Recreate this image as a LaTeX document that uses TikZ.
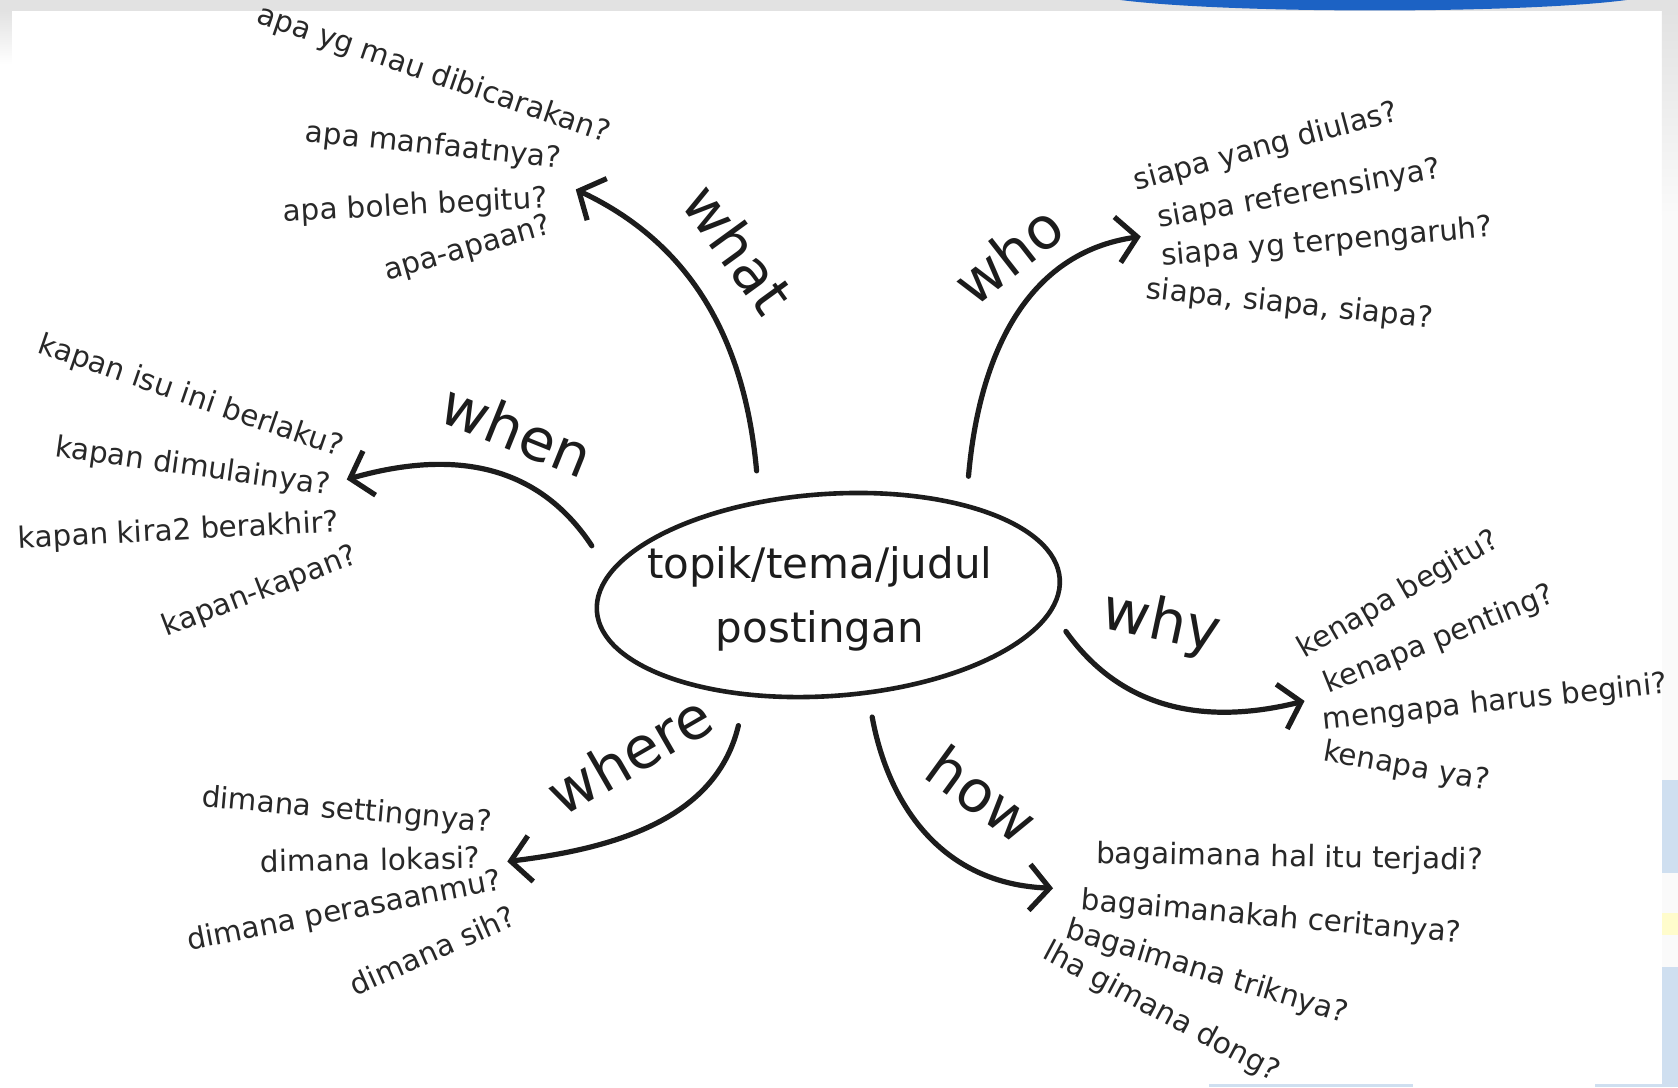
\documentclass[tikz,border=0pt]{standalone}
\usepackage{fontspec}
\setmainfont{DejaVu Sans}
\usetikzlibrary{shapes.geometric, arrows.meta, positioning}
\definecolor{inkdark}{RGB}{28,28,28}
\definecolor{textgray}{RGB}{40,40,40}
\definecolor{framegray}{RGB}{226,226,226}
\definecolor{slideblue}{RGB}{28,98,196}
\definecolor{paleblue}{RGB}{207,223,240}
\definecolor{paleyellow}{RGB}{255,252,204}

\tikzset{
    question/.style={text=textgray, font=\fontsize{14.7}{18}\selectfont, inner sep=1pt},
    keyword/.style={text=inkdark, font=\fontsize{29}{32}\selectfont, inner sep=1pt},
    branch/.style={draw=inkdark, line width=2.6pt, line cap=round, -{Straight Barb[length=10pt,width=23pt]}},
    topicring/.style={ellipse, draw=inkdark, line width=2.3pt, minimum width=232pt, minimum height=101pt, inner sep=0pt}
}

\begin{document}
\begin{tikzpicture}[x=0.5351pt, y=-0.5351pt]
    \useasboundingbox (0,0) rectangle (1568,1016);

    % slide frame
    \fill[white] (0,0) rectangle (1568,1016);
    \fill[framegray] (0,0) rectangle (1568,10);
    \shade[top color=framegray, bottom color=white] (0,10) rectangle (11,60);
    \shade[top color=framegray, bottom color=gray!4] (1553,10) rectangle (1568,200);
    \fill[gray!4] (1553,200) rectangle (1568,1016);
    \fill[slideblue] (1047,0) .. controls (1150,13) and (1420,13) .. (1520,0) -- cycle;
    \fill[paleblue] (1553,729) rectangle (1568,816);
    \fill[paleyellow] (1553,853) rectangle (1568,874);
    \fill[paleblue] (1553,904) rectangle (1568,1016);
    \fill[paleblue] (1130,1013) rectangle (1320,1016);
    \fill[paleblue] (1490,1013) rectangle (1553,1016);

    % centre
    \node[topicring, rotate=4] (topic) at (774,556) {};
    \node[
        text=inkdark,
        font=\fontsize{21}{32}\selectfont,
        align=center
    ] (topiclabel) at (766,560) {topik/tema/judul\\postingan};

    % branches
    \coordinate (what-from) at (707,440);
    \coordinate (what-to) at (538,177);
    \coordinate (who-from) at (905,445);
    \coordinate (who-to) at (1066,221);
    \coordinate (when-from) at (553,510);
    \coordinate (when-to) at (324,448);
    \coordinate (why-from) at (996,590);
    \coordinate (why-to) at (1219,655);
    \coordinate (how-from) at (815,670);
    \coordinate (how-to) at (984,830);
    \coordinate (where-from) at (690,678);
    \coordinate (where-to) at (474,805);

    \draw[branch] (what-from) .. controls (697,330) and (655,232) .. (what-to);
    \draw[branch] (who-from) .. controls (915,330) and (960,236) .. (who-to);
    \draw[branch] (when-from) .. controls (510,445) and (440,415) .. (when-to);
    \draw[branch] (why-from) .. controls (1040,652) and (1110,682) .. (why-to);
    \draw[branch] (how-from) .. controls (830,752) and (880,826) .. (how-to);
    \draw[branch] (where-from) .. controls (670,762) and (582,792) .. (where-to);

    % keywords
    \node[keyword, rotate=-54] (what) at (690,232) {what};
    \node[keyword, rotate=38] (who) at (942,238) {who};
    \node[keyword, rotate=-22] (when) at (483,402) {when};
    \node[keyword, rotate=-12] (why) at (1085,583) {why};
    \node[keyword, rotate=-36] (how) at (918,742) {how};
    \node[keyword, rotate=30] (where) at (588,705) {where};

    % what
    \node[question, rotate=-19] (what-q1) at (405,70) {apa yg mau dibicarakan?};
    \node[question, rotate=-6] (what-q2) at (405,137) {apa manfaatnya?};
    \node[question, rotate=3] (what-q3) at (388,193) {apa boleh begitu?};
    \node[question, rotate=16] (what-q4) at (437,233) {apa-apaan?};

    % who
    \node[question, rotate=15] (who-q1) at (1183,138) {siapa yang diulas?};
    \node[question, rotate=10] (who-q2) at (1214,182) {siapa referensinya?};
    \node[question, rotate=5] (who-q3) at (1240,227) {siapa yg terpengaruh?};
    \node[question, rotate=-6] (who-q4) at (1205,285) {siapa, siapa, siapa?};

    % when
    \node[question, rotate=-19] (when-q1) at (178,371) {kapan isu ini berlaku?};
    \node[question, rotate=-8] (when-q2) at (180,437) {kapan dimulainya?};
    \node[question, rotate=3] (when-q3) at (167,497) {kapan kira2 berakhir?};
    \node[question, rotate=21] (when-q4) at (243,553) {kapan-kapan?};

    % why
    \node[question, rotate=30] (why-q1) at (1307,556) {kenapa begitu?};
    \node[question, rotate=22] (why-q2) at (1345,598) {kenapa penting?};
    \node[question, rotate=6] (why-q3) at (1397,657) {mengapa harus begini?};
    \node[question, rotate=-10] (why-q4) at (1314,717) {kenapa ya?};

    % where
    \node[question, rotate=-5] (where-q1) at (324,758) {dimana settingnya?};
    \node[question, rotate=1] (where-q2) at (346,803) {dimana lokasi?};
    \node[question, rotate=11] (where-q3) at (322,852) {dimana perasaanmu?};
    \node[question, rotate=24] (where-q4) at (404,888) {dimana sih?};

    % how
    \node[question, rotate=-1] (how-q1) at (1205,802) {bagaimana hal itu terjadi?};
    \node[question, rotate=-5] (how-q2) at (1188,858) {bagaimanakah ceritanya?};
    \node[question, rotate=-17] (how-q3) at (1128,909) {bagaimana triknya?};
    \node[question, rotate=-28] (how-q4) at (1085,946) {lha gimana dong?};
\end{tikzpicture}
\end{document}
